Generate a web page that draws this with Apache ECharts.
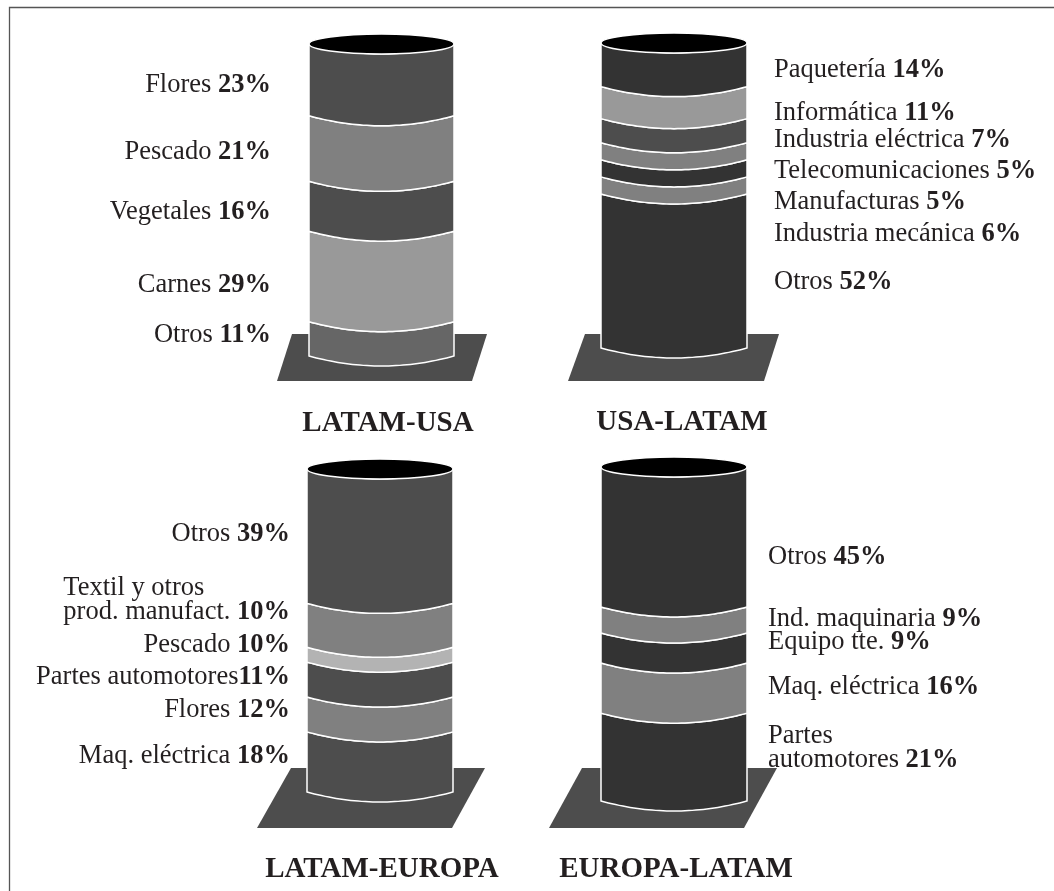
<!DOCTYPE html>
<html>
<head>
<meta charset="utf-8">
<title>Carga por ruta</title>
<style>
  html, body { margin: 0; padding: 0; background: #fff; }
  #chart { width: 1054px; height: 891px; }
</style>
<script src="https://cdn.jsdelivr.net/npm/echarts@6/dist/echarts.min.js"></script>
</head>
<body>
<div id="chart"></div>
<script>
// rutas
const routes = ['LATAM-USA', 'USA-LATAM', 'LATAM-EUROPA', 'EUROPA-LATAM']

// categorias y porcentajes impresos, de abajo hacia arriba
const catLatamUsa = ['Otros', 'Carnes', 'Vegetales', 'Pescado', 'Flores']
const pctLatamUsa = [11, 29, 16, 21, 23]
const catUsaLatam = ['Otros', 'Industria mecánica', 'Manufacturas', 'Telecomunicaciones', 'Industria eléctrica', 'Informática', 'Paquetería']
const pctUsaLatam = [52, 6, 5, 5, 7, 11, 14]
const catLatamEuropa = ['Maq. eléctrica', 'Flores', 'Partes automotores', 'Pescado', 'Textil y otros\nprod. manufact.', 'Otros']
const pctLatamEuropa = [18, 12, 11, 10, 10, 39]
const catEuropaLatam = ['Partes\nautomotores', 'Maq. eléctrica', 'Equipo tte.', 'Ind. maquinaria', 'Otros']
const pctEuropaLatam = [21, 16, 9, 9, 45]

// alto de cada banda tal como esta dibujada (% del cilindro), no siempre igual al impreso
const hLatamUsa = [11, 29, 16, 21, 23]
const hUsaLatam = [50.5, 5.6, 5.6, 5.6, 7.9, 10.5, 14.3]
const hLatamEuropa = [18.6, 10.8, 10.8, 4.6, 13.6, 41.6]
const hEuropaLatam = [26.3, 15, 9, 7.8, 41.9]

// grises de las bandas
const grayLatamUsa = ['#666666', '#999999', '#4d4d4d', '#808080', '#4d4d4d']
const grayUsaLatam = ['#333333', '#808080', '#333333', '#808080', '#4d4d4d', '#999999', '#333333']
const grayLatamEuropa = ['#4d4d4d', '#808080', '#4d4d4d', '#b3b3b3', '#808080', '#4d4d4d']
const grayEuropaLatam = ['#333333', '#808080', '#333333', '#808080', '#333333']

const cats = [catLatamUsa, catUsaLatam, catLatamEuropa, catEuropaLatam]
const pcts = [pctLatamUsa, pctUsaLatam, pctLatamEuropa, pctEuropaLatam]
const heights = [hLatamUsa, hUsaLatam, hLatamEuropa, hEuropaLatam]
const grays = [grayLatamUsa, grayUsaLatam, grayLatamEuropa, grayEuropaLatam]

// layout en pixeles
const cyl = [
  {left: 309, right: 454, top: 44, bottom: 356},
  {left: 601, right: 747, top: 43, bottom: 348},
  {left: 307, right: 453, top: 469, bottom: 792},
  {left: 601, right: 747, top: 467, bottom: 801}
]
const bases = [
  [[292, 334], [487, 334], [472, 381], [277, 381]],
  [[585, 334], [779, 334], [764, 381], [568, 381]],
  [[291, 768], [485, 768], [452, 828], [257, 828]],
  [[582, 768], [777, 768], [744, 828], [549, 828]]
]
const titlePos = [[388, 424], [682, 423], [382, 870], [676, 870]]
const labelSide = ['right', 'left', 'right', 'left']
const labelX = [271, 774, 290, 768]
const labelY = [
  [335, 285, 212, 152, 85],
  [282, 234, 202, 171, 140, 113, 70],
  [756, 710, 677, 645, 612, 534],
  [760, 687, 642, 619, 557]
]
const SAG = 10
const LINE = 23.5
const FONT = '"Liberation Serif", "Times New Roman", serif'
const SIZE = '26.5px '
const INK = '#231f20'

const measure = document.createElement('canvas').getContext('2d')
function textWidth(font, text){
  measure.font = font
  return measure.measureText(text).width
}

function curve(xl, xr, y, steps, reverse){
  let pts = []
  for(let i = 0; i <= steps; i++){
    let t = i / steps
    let u = 2 * t - 1
    pts.push([xl + (xr - xl) * t, y + SAG * (1 - u * u)])
  }
  return reverse ? pts.reverse() : pts
}

function renderBand(params, api){
  let lo = api.coord([-1, api.value(0)])
  let hi = api.coord([1, api.value(1)])
  let points = curve(lo[0], hi[0], lo[1], 40, false).concat(curve(lo[0], hi[0], hi[1], 40, true))
  return {
    type: 'polygon',
    shape: {points: points},
    style: {fill: api.visual('color'), stroke: '#fff', lineWidth: 1.5}
  }
}

function renderTop(params, api){
  let a = api.coord([-1, api.value(0)])
  let b = api.coord([1, api.value(0)])
  return {
    type: 'ellipse',
    shape: {cx: (a[0] + b[0]) / 2, cy: a[1], rx: (b[0] - a[0]) / 2, ry: SAG},
    style: {fill: '#000', stroke: '#fff', lineWidth: 1.5}
  }
}

let grid = [], xAxis = [], yAxis = [], series = [], graphic = []

// marco: solo arriba y a la izquierda
graphic.push({
  type: 'polyline', z: 0,
  shape: {points: [[9.5, 891], [9.5, 7.5], [1054, 7.5]]},
  style: {fill: null, stroke: '#555', lineWidth: 1.3}
})

routes.forEach((route, i) => {
  let c = cyl[i]
  grid.push({left: c.left, top: c.top, width: c.right - c.left, height: c.bottom - c.top})
  xAxis.push({gridIndex: i, type: 'value', min: -1, max: 1, show: false})
  yAxis.push({gridIndex: i, type: 'value', min: 0, max: 100, show: false})

  // bandas apiladas desde las alturas
  let sum = 0
  let bands = heights[i].map((h, k) => {
    let row = {value: [sum, sum + h], itemStyle: {color: grays[i][k]}}
    sum += h
    return row
  })
  series.push({
    type: 'custom', xAxisIndex: i, yAxisIndex: i, coordinateSystem: 'cartesian2d',
    renderItem: renderBand, encode: {y: [0, 1]}, clip: false, silent: true, z: 3, data: bands
  })
  series.push({
    type: 'custom', xAxisIndex: i, yAxisIndex: i, coordinateSystem: 'cartesian2d',
    renderItem: renderTop, encode: {y: 0}, clip: false, silent: true, z: 4, data: [[100]]
  })

  graphic.push({
    type: 'polygon', z: 1, shape: {points: bases[i]}, style: {fill: '#4d4d4d'}
  })
  graphic.push({
    type: 'text', x: titlePos[i][0], y: titlePos[i][1],
    style: {text: route, font: 'bold 29px ' + FONT, fill: INK, align: 'center', verticalAlign: 'middle'}
  })

  cats[i].forEach((name, k) => {
    let lines = name.split('\n')
    let last = lines.length - 1
    // el original no deja espacio en esta etiqueta
    let gap = name === 'Partes automotores' ? '' : ' '
    let regular = SIZE + FONT
    let bold = 'bold ' + SIZE + FONT
    lines.forEach((line, n) => {
      let text = n === last ? '{a|' + line + gap + '}{b|' + pcts[i][k] + '%}' : '{a|' + line + '}'
      let x = labelX[i]
      let align = labelSide[i]
      if(n < last && align === 'right'){
        // primera linea alineada al inicio de la ultima
        x -= textWidth(regular, lines[last] + gap) + textWidth(bold, pcts[i][k] + '%')
        align = 'left'
      }
      graphic.push({
        type: 'text',
        x: x,
        y: labelY[i][k] + (n - last) * LINE,
        style: {
          text: text,
          align: align,
          verticalAlign: 'middle',
          rich: {
            a: {font: regular, fill: INK},
            b: {font: bold, fill: INK}
          }
        }
      })
    })
  })
})

let chart = echarts.init(document.getElementById('chart'), null, {renderer: 'canvas'})
chart.setOption({
  backgroundColor: '#fff',
  animation: false,
  tooltip: {show: false},
  grid: grid,
  xAxis: xAxis,
  yAxis: yAxis,
  series: series,
  graphic: graphic
})
</script>
</body>
</html>
